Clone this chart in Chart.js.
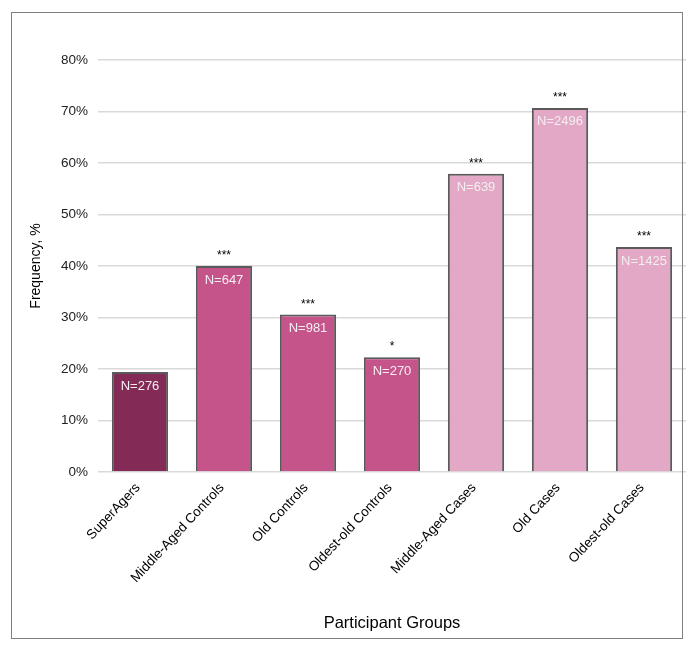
<!DOCTYPE html>
<html>
<head>
<meta charset="utf-8">
<script src="https://cdn.jsdelivr.net/npm/chart.js@4.4.1/dist/chart.umd.min.js"></script>
<style>
  body{margin:0;background:#fff;}
  #wrap{position:relative;width:695px;height:645px;}
  #frame{position:absolute;left:11px;top:12px;width:672px;height:627px;border:1px solid #7f7f7f;box-sizing:border-box;pointer-events:none;}
  canvas{position:absolute;left:0;top:0;}
</style>
</head>
<body>
<div id="wrap">
  <canvas id="chart" width="695" height="645"></canvas>
  <div id="frame"></div>
</div>
<script>
// ------------------------------
// DATA
// ------------------------------
const groups = ["SuperAgers","Middle-Aged Controls","Old Controls","Oldest-old Controls","Middle-Aged Cases","Old Cases","Oldest-old Cases"]
const frequency = [19.4, 40.0, 30.6, 22.3, 57.9, 70.7, 43.7]
const counts = ["N=276","N=647","N=981","N=270","N=639","N=2496","N=1425"]
const stars = ["","***","***","*","***","***","***"]
const barColors = ["#842a56","#c5548a","#c5548a","#c5548a","#e2a8c6","#e2a8c6","#e2a8c6"]

const FONT = "'Liberation Sans', Arial, sans-serif"

// ------------------------------
// LABEL PLUGIN (N= inside, stars above)
// ------------------------------
const barLabels = {
    id:"barLabels",
    afterDatasetsDraw(chart){
        const ctx = chart.ctx
        const meta = chart.getDatasetMeta(0)
        ctx.save()
        ctx.textAlign = "center"
        ctx.textBaseline = "middle"
        meta.data.forEach((bar,i)=>{
            ctx.font = "13px " + FONT
            ctx.fillStyle = "#f4eef1"
            ctx.fillText(counts[i], bar.x, bar.y + 14)
            if(stars[i]){
                ctx.font = "12px " + FONT
                ctx.fillStyle = "#000"
                ctx.fillText(stars[i], bar.x, bar.y - 10)
            }
        })
        ctx.restore()
    }
}

// ------------------------------
// CHART
// ------------------------------
new Chart(document.getElementById("chart").getContext("2d"),{
    type:"bar",
    data:{
        labels:groups,
        datasets:[{
            data:frequency,
            backgroundColor:barColors,
            borderColor:"#5a5a5a",
            borderWidth:2,
            borderSkipped:"bottom",
            categoryPercentage:1,
            barPercentage:0.67
        }]
    },
    options:{
        responsive:false,
        animation:false,
        layout:{padding:{top:60,right:9,bottom:0,left:0}},
        plugins:{legend:{display:false},tooltip:{enabled:false}},
        scales:{
            x:{
                grid:{display:false},
                border:{display:false},
                ticks:{
                    color:"#000",
                    font:{family:FONT,size:13.5},
                    minRotation:47,
                    maxRotation:47,
                    padding:0,
                    labelOffset:-2
                },
                title:{
                    display:true,
                    text:"Participant Groups",
                    color:"#000",
                    font:{family:FONT,size:16.5},
                    padding:{top:4,bottom:12}
                },
                afterFit(scale){ scale.height = 173 }
            },
            y:{
                min:0,
                max:80,
                ticks:{
                    stepSize:10,
                    color:"#222",
                    font:{family:FONT,size:13.5},
                    padding:10,
                    callback:v => v + "%"
                },
                grid:{color:"#d9d9d9",lineWidth:1.5,drawTicks:false},
                border:{display:false},
                title:{
                    display:true,
                    text:"Frequency, %",
                    color:"#000",
                    font:{family:FONT,size:14},
                    padding:{top:28,bottom:0}
                },
                afterFit(scale){ scale.width = 98 }
            }
        }
    },
    plugins:[barLabels]
})
</script>
</body>
</html>
